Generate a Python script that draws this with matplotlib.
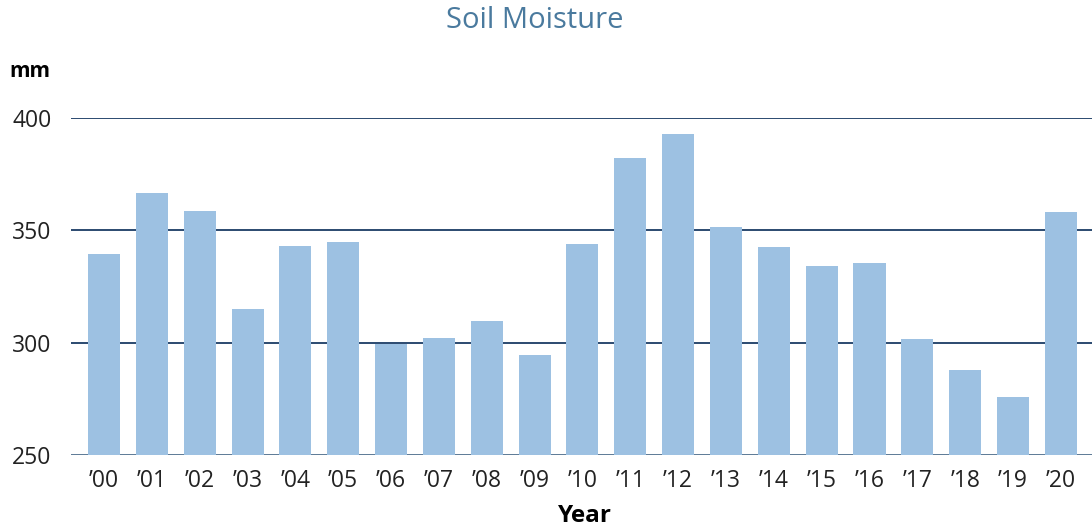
import numpy as np
import matplotlib.pyplot as plt

plt.rcParams['font.family'] = ['Open Sans', 'DejaVu Sans']

years = ['\u201900', '\u201901', '\u201902', '\u201903', '\u201904', '\u201905', '\u201906',
         '\u201907', '\u201908', '\u201909', '\u201910', '\u201911', '\u201912', '\u201913',
         '\u201914', '\u201915', '\u201916', '\u201917', '\u201918', '\u201919', '\u201920']
moisture = [339.5, 366.6, 358.6, 315.0, 343.0, 344.8, 299.4, 302.1, 309.7, 294.5, 343.9,
            382.2, 392.9, 351.5, 342.6, 334.1, 335.5, 301.6, 287.9, 275.8, 358.2]
yticks = [250, 300, 350, 400]

fig = plt.figure(figsize=(10.92, 5.30), dpi=100)
ax = fig.add_axes([0.065, 0.1415, 0.935, 0.6355])

x = np.arange(len(years))
ax.bar(x, moisture, width=0.67, color='#9dc1e2', zorder=3)

for y in yticks:
    col = '#5d7a96' if y == 250 else '#2b4a70'
    ax.axhline(y, color=col, lw=1.4, zorder=2)

ax.set_ylim(250, 400)
ax.set_xlim(-0.69, 20.65)
ax.set_yticks(yticks)
ax.set_xticks(x)
ax.set_xticklabels(years)
ax.tick_params(axis='both', length=0, labelsize=16.5, colors='#222222')
ax.tick_params(axis='y', pad=14)
ax.tick_params(axis='x', pad=10)
for s in ax.spines.values():
    s.set_visible(False)

ax.set_xlabel('Year', fontsize=17.5, fontweight='bold')
ax.xaxis.set_label_coords(0.503, -0.145)
fig.text(0.009, 0.865, 'mm', fontsize=15, fontweight='bold', va='center', ha='left')
fig.text(0.4895, 0.962, 'Soil Moisture', fontsize=21, color='#4a7a9e', ha='center', va='center')

fig.savefig('out.png', dpi=100)
